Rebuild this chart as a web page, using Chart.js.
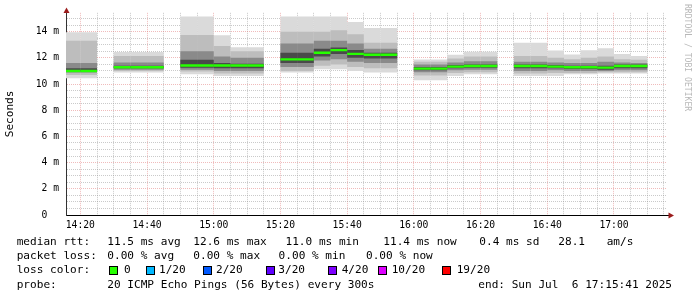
<!DOCTYPE html>
<html><head><meta charset="utf-8">
<script src="https://cdn.jsdelivr.net/npm/chart.js@4/dist/chart.umd.min.js"></script>
<style>
html,body{margin:0;padding:0;background:#fff;}
#wrap{position:relative;width:697px;height:297px;overflow:hidden;background:#fff;}
#c{position:absolute;left:0;top:0;}
.t{position:absolute;font-family:"DejaVu Sans Mono",monospace;font-size:11.1px;line-height:13px;white-space:pre;color:#000;}
.sq{position:absolute;width:7px;height:7px;border:1px solid #000;}
#wm{position:absolute;left:683px;top:4px;writing-mode:vertical-rl;font-family:"DejaVu Sans Mono",monospace;font-size:8.1px;color:#b8b8b8;white-space:pre;line-height:10px;}
</style></head>
<body><div id="wrap"><canvas id="c" width="697" height="297"></canvas><div id="wm">RRDTOOL / TOBI OETIKER</div></div>
<script>
// ---- data (ms), one value per 5-minute slot, null = no data ----
const slotStart = ['14:15','14:20','14:25','14:30','14:35','14:40','14:45','14:50','14:55','15:00','15:05','15:10',
  '15:15','15:20','15:25','15:30','15:35','15:40','15:45','15:50','15:55','16:00','16:05','16:10',
  '16:15','16:20','16:25','16:30','16:35','16:40','16:45','16:50','16:55','17:00','17:05','17:10'];
const rttMin = [10.45,10.45,null,10.88,10.88,10.88,null,10.75,10.75,10.62,10.62,10.62,
  null,10.88,10.88,11.13,11.13,11.0,10.88,10.88,null,10.29,10.29,10.62,
  10.75,10.75,null,10.62,10.62,10.62,10.75,10.75,10.8,10.8,10.8,null];
const rttP10 = [10.7,10.7,null,11.0,11.0,11.0,null,10.95,10.95,10.8,10.8,10.8,
  null,11.0,11.0,11.4,11.5,11.3,11.2,11.2,null,10.65,10.65,10.85,
  10.9,10.9,null,10.8,10.8,10.85,10.85,10.85,10.9,10.9,10.9,null];
const rttP25 = [10.88,10.88,null,11.1,11.1,11.1,null,11.1,11.1,11.0,11.0,11.0,
  null,11.3,11.3,11.8,11.9,11.7,11.6,11.6,null,10.9,10.9,11.05,
  11.1,11.1,null,11.0,11.0,11.05,11.0,11.0,11.0,11.05,11.05,null];
const rttP40 = [10.95,10.95,null,11.2,11.2,11.2,null,11.25,11.25,11.2,11.2,11.2,
  null,11.6,11.6,12.1,12.3,12.0,11.95,11.95,null,11.05,11.05,11.2,
  11.25,11.25,null,11.2,11.2,11.2,11.15,11.15,11.1,11.2,11.2,null];
const rttMedian = [11.0,11.0,null,11.28,11.28,11.28,null,11.42,11.42,11.42,11.42,11.42,
  null,11.88,11.88,12.39,12.59,12.31,12.24,12.24,null,11.18,11.18,11.33,
  11.38,11.38,null,11.38,11.38,11.33,11.28,11.28,11.25,11.38,11.38,null];
const rttP60 = [11.2,11.2,null,11.4,11.4,11.4,null,11.85,11.85,11.6,11.55,11.55,
  null,12.4,12.4,12.7,12.8,12.6,12.4,12.4,null,11.3,11.3,11.45,
  11.5,11.5,null,11.5,11.5,11.45,11.4,11.4,11.4,11.5,11.5,null];
const rttP75 = [11.6,11.6,null,11.65,11.65,11.65,null,12.5,12.5,12.1,12.0,12.0,
  null,13.1,13.1,13.3,13.3,13.1,12.7,12.7,null,11.5,11.5,11.65,
  11.75,11.75,null,11.7,11.7,11.65,11.6,11.6,11.7,11.65,11.6,null];
const rttP90 = [13.3,13.3,null,12.14,12.14,12.14,null,13.75,13.75,12.9,12.5,12.5,
  null,14.0,14.0,14.0,14.1,13.8,13.15,13.15,null,11.7,11.7,11.95,
  12.1,12.1,null,12.14,12.14,12.0,11.9,12.0,12.1,11.9,11.85,null];
const rttMax = [13.95,13.95,null,12.44,12.44,12.44,null,15.16,15.16,13.73,12.82,12.82,
  null,15.16,15.16,15.16,15.16,14.74,14.28,14.28,null,11.88,11.88,12.24,
  12.47,12.47,null,13.15,13.15,12.57,12.26,12.59,12.74,12.29,12.14,null];

const xLabelTimes = ['14:20','14:40','15:00','15:20','15:40','16:00','16:20','16:40','17:00'];
const yLabelValues = [0,2,4,6,8,10,12,14];

const legendRows = [
  [['median rtt:',16.7],['11.5 ms avg',107.3],['12.6 ms max',193.3],['11.0 ms min',285.5],['11.4 ms now',383.3],['0.4 ms sd',479.3],['28.1',558.3],['am/s',606.7]],
  [['packet loss:',16.7],['0.00 % avg',107.3],['0.00 % max',193.3],['0.00 % min',278.6],['0.00 % now',366]],
  [['loss color:',16.7]],
  [['probe:',16.7],['20 ICMP Echo Pings (56 Bytes) every 300s',107.3],['end: Sun Jul  6 17:15:41 2025',478.3]]
];
const lossLabels = ['0','1/20','2/20','3/20','4/20','10/20','19/20'];
const lossColors = ['#26ff00','#00b8ff','#0059ff','#5e00ff','#7e00ff','#dd00ff','#ff0000'];
const lossSquareX = [109,146,203,266,328,378,442];
const lossLabelX = [124,159,216,278.3,341.7,391.7,456.7];

// ---- build ----
const wrap = document.getElementById('wrap');
const rowTops = [234.6, 249, 263.3, 277.6];
legendRows.forEach((row, r) => row.forEach(([txt, x]) => {
  const d = document.createElement('div'); d.className = 't'; d.textContent = txt;
  d.style.left = x + 'px'; d.style.top = rowTops[r] + 'px'; wrap.appendChild(d);
}));
lossLabels.forEach((lab, i) => {
  const s = document.createElement('div'); s.className = 'sq'; s.style.background = lossColors[i];
  s.style.left = lossSquareX[i] + 'px'; s.style.top = '265.5px'; wrap.appendChild(s);
  const d = document.createElement('div'); d.className = 't'; d.textContent = lab;
  d.style.left = lossLabelX[i] + 'px'; d.style.top = rowTops[2] + 'px'; wrap.appendChild(d);
});

const toMin = s => { const p = s.split(':').map(Number); return p[0] * 60 + p[1]; };
const SLOT = 5;
const MED_HALF = 0.09;
function band(lo, hi) {
  const out = [];
  slotStart.forEach((s, i) => { if (lo[i] != null && hi[i] != null) out.push({x: toMin(s) + SLOT / 2, y: [lo[i], hi[i]]}); });
  return out;
}
const medLo = rttMedian.map(v => v == null ? null : v - MED_HALF);
const medHi = rttMedian.map(v => v == null ? null : v + MED_HALF);
const xLabelSet = new Set(xLabelTimes.map(toMin));
const ySet = new Set(yLabelValues);

const common = {barPercentage: 1, categoryPercentage: 1, borderWidth: 0, grouped: false, clip: 0, inflateAmount: 0};
const datasets = [
  Object.assign({data: band(medLo, medHi), backgroundColor: lossColors[0], order: 0}, common),
  Object.assign({data: band(rttP40, rttP60), backgroundColor: '#4a4a4a', order: 1}, common),
  Object.assign({data: band(rttP25, rttP75), backgroundColor: '#8a8a8a', order: 2}, common),
  Object.assign({data: band(rttP10, rttP90), backgroundColor: '#bdbdbd', order: 3}, common),
  Object.assign({data: band(rttMin, rttMax), backgroundColor: '#dadada', order: 4}, common)
];

const MINOR = 'rgba(150,150,150,0.5)';
const MAJOR = 'rgba(225,120,120,0.5)';
const arrows = {
  id: 'arrows',
  afterDraw(chart) {
    const ctx = chart.ctx, a = chart.chartArea;
    ctx.save();
    ctx.strokeStyle = '#333'; ctx.lineWidth = 1;
    ctx.beginPath(); ctx.moveTo(66.5, a.top); ctx.lineTo(66.5, 12); ctx.stroke();
    ctx.strokeStyle = '#000';
    ctx.beginPath(); ctx.moveTo(a.right, 215.5); ctx.lineTo(669, 215.5); ctx.stroke();
    ctx.fillStyle = '#9b1c1c';
    ctx.beginPath(); ctx.moveTo(63.5, 13); ctx.lineTo(69.5, 13); ctx.lineTo(66.5, 7.5); ctx.closePath(); ctx.fill();
    ctx.beginPath(); ctx.moveTo(668.5, 212.5); ctx.lineTo(668.5, 218.5); ctx.lineTo(674, 215.5); ctx.closePath(); ctx.fill();
    ctx.restore();
  }
};

new Chart(document.getElementById('c'), {
  type: 'bar',
  data: {datasets},
  options: {
    responsive: false, animation: false, devicePixelRatio: 1,
    layout: {padding: {left: 0, top: 11, right: 30, bottom: 0}},
    plugins: {legend: {display: false}, tooltip: {enabled: false}, title: {display: false}},
    scales: {
      x: {
        type: 'linear', min: 855.7, max: 1035.9, offset: false, z: 1,
        afterFit: s => { s.height = 82; },
        afterBuildTicks: s => { const t = []; for (let m = 860; m <= 1035; m += 5) t.push({value: m}); s.ticks = t; },
        grid: {offset: false, drawTicks: false, lineWidth: 1,
          color: c => (c.tick && xLabelSet.has(c.tick.value)) ? MAJOR : MINOR},
        border: {display: true, color: '#000', width: 1, dash: [1, 1]},
        ticks: {autoSkip: false, maxRotation: 0, padding: 4.5, color: '#000',
          font: {family: 'DejaVu Sans Mono', size: 9.7},
          callback: v => { if (!xLabelSet.has(v)) return ''; const h = Math.floor(v / 60), m = v % 60; return h + ':' + String(m).padStart(2, '0'); }}
      },
      y: {
        type: 'linear', min: 0, max: 15.44, z: 1,
        afterFit: s => { s.width = 66; },
        afterBuildTicks: s => { const t = []; for (let k = 0; k <= 30; k++) t.push({value: k / 2}); s.ticks = t; },
        grid: {drawTicks: false, lineWidth: 1,
          color: c => (c.tick && ySet.has(c.tick.value) && c.tick.value !== 0) ? MAJOR : MINOR},
        border: {display: true, color: '#333', width: 1, dash: [1, 1]},
        title: {display: true, text: 'Seconds', color: '#000', font: {family: 'DejaVu Sans Mono', size: 11.1}, padding: {top: 3.7, bottom: 0}},
        ticks: {autoSkip: false, padding: 7, color: '#000',
          font: {family: 'DejaVu Sans Mono', size: 9.7},
          callback: v => ySet.has(v) ? (v === 0 ? '0  ' : v + ' m') : ''}
      }
    }
  },
  plugins: [arrows]
});
</script></body></html>
